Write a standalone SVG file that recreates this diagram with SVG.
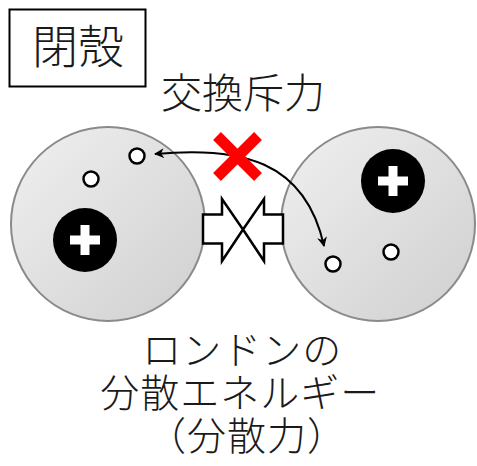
<svg xmlns="http://www.w3.org/2000/svg" width="477" height="466" viewBox="0 0 477 466">
  <defs>
    <linearGradient id="atomFill" x1="0" y1="0" x2="1" y2="1">
      <stop offset="0" stop-color="#f0f0f0"/>
      <stop offset="1" stop-color="#cfcfcf"/>
    </linearGradient>
    <marker id="head" viewBox="0 0 10 10" refX="9" refY="5" markerWidth="5" markerHeight="5" orient="auto-start-reverse">
      <path d="M0,0 L10,5 L0,10 L3,5 Z" fill="#000"/>
    </marker>
    <g id="plus">
      <rect x="-15" y="-4.5" width="30" height="9" fill="#fff"/>
      <rect x="-4.5" y="-15" width="9" height="30" fill="#fff"/>
    </g>
  </defs>
  <style>
    text { font-family: "Noto Sans CJK JP", "Noto Sans CJK SC", sans-serif; font-weight: 300; fill: #1a1a1a; text-anchor: middle; }
    .atom { fill: url(#atomFill); stroke: #8a8a8a; stroke-width: 2; }
    .nucleus { fill: #000; }
    .electron { fill: #fff; stroke: #000; stroke-width: 2.5; }
    .block { fill: #fff; stroke: #000; stroke-width: 2.5; stroke-linejoin: miter; }
    .caption { font-size: 39px; letter-spacing: 1px; }
  </style>

  <!-- title box -->
  <g id="title">
    <rect x="9.5" y="9.5" width="136" height="77" fill="#fff" stroke="#000" stroke-width="2"/>
    <text x="78" y="63" font-size="46">閉殼</text>
  </g>

  <g id="exchange-label">
    <text x="243" y="108" font-size="41">交換斥力</text>
  </g>

  <!-- left atom -->
  <g id="atom-left">
    <circle class="atom" cx="108" cy="224" r="97"/>
    <circle class="nucleus" cx="85" cy="240" r="32"/>
    <use href="#plus" x="85" y="240"/>
    <circle class="electron" cx="137" cy="156" r="7.5"/>
    <circle class="electron" cx="91" cy="179" r="7.5"/>
  </g>

  <!-- right atom -->
  <g id="atom-right">
    <circle class="atom" cx="378" cy="224" r="97"/>
    <circle class="nucleus" cx="393" cy="181" r="32"/>
    <use href="#plus" x="393" y="181"/>
    <circle class="electron" cx="333" cy="264" r="7.5"/>
    <circle class="electron" cx="391" cy="252" r="7.5"/>
  </g>

  <!-- opposing block arrows -->
  <g id="block-arrows">
    <path class="block" d="M203,214.5 L222,214.5 L222,199 L243,229.5 L222,261 L222,243.5 L203,243.5 Z"/>
    <path class="block" d="M283,214.5 L264,214.5 L264,199 L243,229.5 L264,261 L264,243.5 L283,243.5 Z"/>
  </g>

  <!-- exchange connector -->
  <g id="connectors">
    <path d="M155,154 C240,146 305,160 324,246" fill="none" stroke="#000" stroke-width="2" marker-start="url(#head)" marker-end="url(#head)"/>
  </g>

  <!-- forbidden mark -->
  <g id="cross">
    <line x1="217" y1="136" x2="258" y2="177" stroke="#ff0000" stroke-width="11"/>
    <line x1="258" y1="136" x2="217" y2="177" stroke="#ff0000" stroke-width="11"/>
  </g>

  <!-- three-line caption kept as one text block -->
  <g id="dispersion-label">
    <text class="caption">
      <tspan x="247" y="364">ロンドンの</tspan>
      <tspan x="245" y="407">分散エネルギー</tspan>
      <tspan x="247" y="450">（分散力）</tspan>
    </text>
  </g>
</svg>
